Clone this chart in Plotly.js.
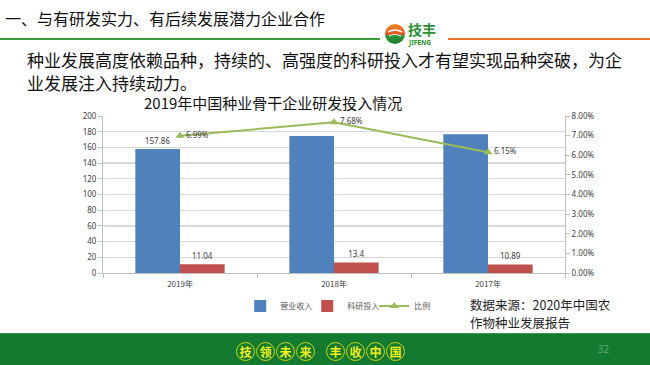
<!DOCTYPE html>
<html>
<head>
<meta charset="utf-8">
<script src="https://cdn.plot.ly/plotly-3.0.1.min.js"></script>
<style>
  html, body { margin: 0; padding: 0; width: 650px; height: 365px; overflow: hidden; background: #ffffff; font-family: "Noto Sans CJK SC", "Noto Sans", sans-serif; }
  #chart { position: absolute; left: 0; top: 0; width: 650px; height: 365px; }
  .abs { position: absolute; white-space: nowrap; }
  .circ { display: inline-block; width: 17px; height: 17px; line-height: 17px; border: 1px solid #c9d61a; border-radius: 50%; color: #f2ef1c; font-size: 12px; font-weight: bold; text-align: center; margin-right: 1px; }
</style>
</head>
<body>
<div id="chart"></div>

<div class="abs" style="left:5px; top:6px; font-size:16px; color:#111;">一、与有研发实力、有后续发展潜力企业合作</div>
<div class="abs" style="left:0; top:38px; width:380px; height:2px; background:#3a9b3a;"></div>
<div class="abs" style="left:448px; top:38px; width:202px; height:2px; background:#e8702a;"></div>
<svg class="abs" style="left:384px; top:20px;" width="64" height="28" viewBox="0 0 64 28">
  <defs>
    <linearGradient id="lg" x1="0" y1="0" x2="0" y2="1">
      <stop offset="0" stop-color="#f08a24"/>
      <stop offset="0.55" stop-color="#e34f1f"/>
      <stop offset="0.56" stop-color="#2f9a3a"/>
      <stop offset="1" stop-color="#1f7d2c"/>
    </linearGradient>
  </defs>
  <circle cx="11" cy="14" r="10" fill="url(#lg)"/>
  <path d="M4 12 Q11 8 18 12" stroke="#fff" stroke-width="1.5" fill="none"/>
  <path d="M5 16 Q11 13 17 16" stroke="#fff" stroke-width="1.2" fill="none"/>
  <text x="24" y="15" font-size="14" font-weight="bold" fill="#2a8f35" font-family="Noto Sans CJK SC">技丰</text>
  <text x="25" y="25" font-size="6.5" font-weight="bold" fill="#2a8f35" font-family="Noto Sans, sans-serif">JIFENG</text>
</svg>

<div class="abs" style="left:27px; top:48px; font-size:17px; color:#111; line-height:23px;">种业发展高度依赖品种，持续的、高强度的科研投入才有望实现品种突破，为企<br>业发展注入持续动力。</div>

<div class="abs" style="left:470px; top:296px; font-size:12.5px; color:#222; line-height:18px;">数据来源：2020年中国农</div>
<div class="abs" style="left:470px; top:314px; font-size:12.5px; color:#222; line-height:18px;">作物种业发展报告</div>

<div class="abs" style="left:0; top:333px; width:650px; height:32px; background:#137a2f; border-top:1px solid #3d9a4d;"></div>
<div class="abs" style="left:236px; top:338px;"><span class="circ">技</span><span class="circ">领</span><span class="circ">未</span><span class="circ">来</span><span style="display:inline-block;width:10px"></span><span class="circ">丰</span><span class="circ">收</span><span class="circ">中</span><span class="circ">国</span></div>
<div class="abs" style="left:598px; top:341px; font-size:10px; color:#6aa878;">32</div>

<script>
const categories = ["2019年", "2018年", "2017年"];
const revenue = [157.86, 174.6, 176.7];
const rdInvest = [11.04, 13.4, 10.89];
const ratio = [0.0699, 0.0768, 0.0615];
const revenueLabels = ["157.86", "", ""];
const rdLabels = ["11.04", "13.4", "10.89"];
const ratioLabels = ["6.99%", "7.68%", "6.15%"];
const leftTicks = [0, 20, 40, 60, 80, 100, 120, 140, 160, 180, 200];

const labelFont = {family: "Noto Sans, sans-serif", size: 8, color: "#404040"};

const traces = [
  {type: "bar", name: "营业收入", x: categories, y: revenue, text: revenueLabels,
   textposition: "outside", textfont: labelFont, cliponaxis: false,
   marker: {color: "#4f81bd"}, hoverinfo: "none"},
  {type: "bar", name: "科研投入", x: categories, y: rdInvest, text: rdLabels,
   textposition: "outside", textfont: labelFont, cliponaxis: false,
   marker: {color: "#c0504d"}, hoverinfo: "none"},
  {type: "scatter", mode: "lines+markers+text", name: "比例", x: categories, y: ratio,
   yaxis: "y2", text: ratioLabels, textposition: "middle right", textfont: labelFont,
   line: {color: "#9bbb59", width: 2}, marker: {symbol: "triangle-up", size: 8, color: "#9bbb59"},
   cliponaxis: false, hoverinfo: "none"}
];

const layout = {
  width: 650, height: 365,
  margin: {l: 103, r: 85, t: 116, b: 92},
  paper_bgcolor: "rgba(0,0,0,0)", plot_bgcolor: "rgba(0,0,0,0)",
  barmode: "group", bargap: 0.42, bargroupgap: 0,
  showlegend: true,
  legend: {orientation: "h", x: 0.297, xanchor: "left", y: -0.21, yanchor: "middle",
           font: {family: "Noto Sans CJK SC", size: 8, color: "#595959"},
           itemwidth: 30, entrywidth: 22, entrywidthmode: "pixels", tracegroupgap: 0},
  xaxis: {type: "category", tickfont: {family: "Noto Sans CJK SC", size: 8, color: "#404040"},
          showline: true, linecolor: "#bfbfbf", linewidth: 1, ticks: "outside", tickson: "boundaries",
          ticklen: 4, tickcolor: "#bfbfbf", showgrid: false, ticklabelstandoff: 3},
  yaxis: {range: [0, 200], tickvals: leftTicks, ticks: "outside", ticklen: 4, tickcolor: "#bfbfbf",
          showline: true, linecolor: "#bfbfbf", gridcolor: "#d9d9d9", gridwidth: 1.3,
          tickfont: {family: "Noto Sans, sans-serif", size: 8, color: "#404040"}, zeroline: false},
  yaxis2: {range: [0, 0.08], dtick: 0.01, tickformat: ".2%", overlaying: "y", side: "right",
           showgrid: false, ticks: "outside", ticklen: 4, tickcolor: "#bfbfbf",
           showline: true, linecolor: "#bfbfbf", zeroline: false,
           tickfont: {family: "Noto Sans, sans-serif", size: 8, color: "#404040"}},
  annotations: [{text: "2019年中国种业骨干企业研发投入情况", xref: "paper", yref: "paper",
                 x: 0.368, y: 1.083, xanchor: "center", yanchor: "middle", showarrow: false,
                 font: {family: "Noto Sans CJK SC", size: 15, color: "#111"}}]
};

Plotly.newPlot("chart", traces, layout, {displayModeBar: false, staticPlot: true});
</script>
</body>
</html>
